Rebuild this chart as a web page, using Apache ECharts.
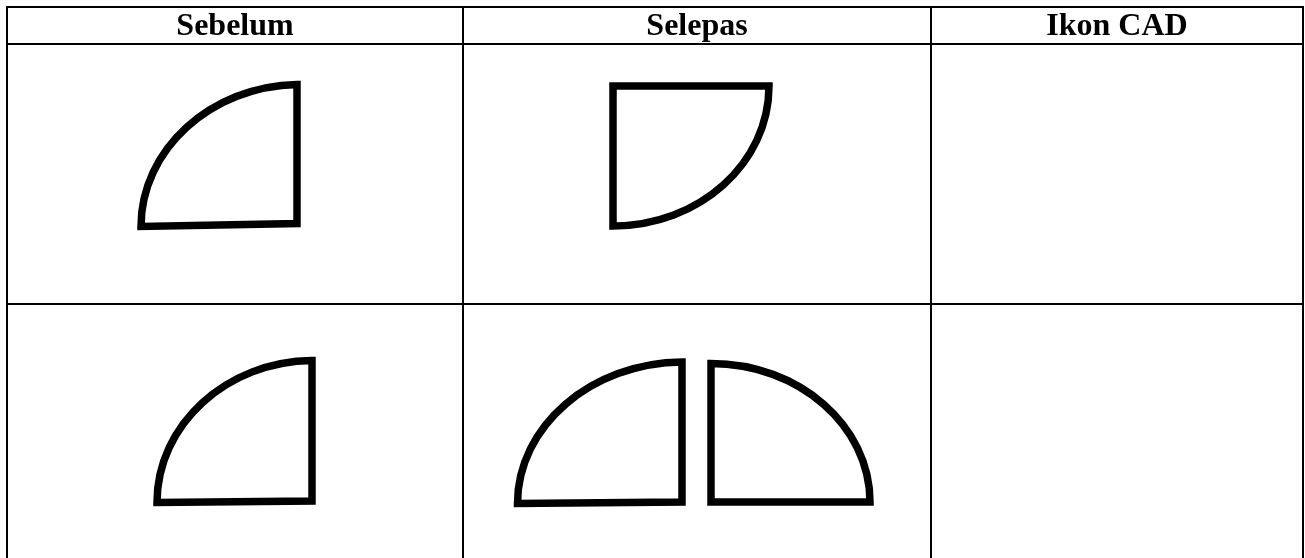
<!DOCTYPE html>
<html>
<head>
<meta charset="utf-8">
<script src="https://cdn.jsdelivr.net/npm/echarts@6/dist/echarts.min.js"></script>
<style>
  html, body { margin: 0; padding: 0; background: #fff; }
  #main { width: 1305px; height: 558px; }
</style>
</head>
<body>
<div id="main"></div>
<script>
// header labels
var headers = ["Sebelum", "Selepas", "Ikon CAD"];
// table edges (picture units)
var colEdges = [7, 463, 931, 1303];
var rowEdges = [7, 44, 304, 600];
// each shape: corner of the quarter, end of the straight edge, end of the other straight edge
var cornerPts = [[297, 223.5], [613, 86], [312, 501], [682, 502], [711, 502]];
var arcStart = [[141, 226.5], [769, 86], [157, 502.5], [517.5, 503.5], [870, 502]];
var arcEnd = [[297, 84.5], [613, 226], [312, 360.5], [682, 362], [711, 363.5]];

var K = 0.5523;

var gridLines = [];
colEdges.forEach(function (x) {
  gridLines.push([x, rowEdges[0] - 1, x, rowEdges[rowEdges.length - 1]]);
});
rowEdges.forEach(function (y) {
  gridLines.push([colEdges[0] - 1, y, colEdges[colEdges.length - 1] + 1, y]);
});

var headerData = headers.map(function (h, i) {
  return [(colEdges[i] + colEdges[i + 1]) / 2, (rowEdges[0] + rowEdges[1]) / 2 + 1.5, i];
});

var shapeData = cornerPts.map(function (c, i) {
  return [c[0], c[1], arcStart[i][0], arcStart[i][1], arcEnd[i][0], arcEnd[i][1]];
});

var myChart = echarts.init(document.getElementById("main"));
myChart.setOption({
  animation: false,
  grid: { left: 0, right: 0, top: 0, bottom: 0 },
  xAxis: { type: "value", min: 0, max: 1305, show: false },
  yAxis: { type: "value", min: 0, max: 558, inverse: true, show: false },
  series: [
    {
      type: "custom",
      data: gridLines,
      clip: false,
      renderItem: function (params, api) {
        var p1 = api.coord([api.value(0), api.value(1)]);
        var p2 = api.coord([api.value(2), api.value(3)]);
        return {
          type: "line",
          shape: { x1: p1[0], y1: p1[1], x2: p2[0], y2: p2[1] },
          style: { stroke: "#000", lineWidth: 2 }
        };
      }
    },
    {
      type: "custom",
      data: headerData,
      renderItem: function (params, api) {
        var p = api.coord([api.value(0), api.value(1)]);
        return {
          type: "text",
          style: {
            text: headers[api.value(2)],
            x: p[0],
            y: p[1],
            align: "center",
            verticalAlign: "middle",
            fill: "#000",
            font: "bold 32px 'Liberation Serif', 'Times New Roman', serif"
          }
        };
      }
    },
    {
      type: "custom",
      data: shapeData,
      renderItem: function (params, api) {
        var c = api.coord([api.value(0), api.value(1)]);
        var a = api.coord([api.value(2), api.value(3)]);
        var b = api.coord([api.value(4), api.value(5)]);
        var c1 = [a[0] + K * (b[0] - c[0]), a[1] + K * (b[1] - c[1])];
        var c2 = [b[0] + K * (a[0] - c[0]), b[1] + K * (a[1] - c[1])];
        var d = "M" + b[0] + " " + b[1] +
          " L" + c[0] + " " + c[1] +
          " L" + a[0] + " " + a[1] +
          " C" + c1[0] + " " + c1[1] + " " + c2[0] + " " + c2[1] + " " + b[0] + " " + b[1] + " Z";
        return {
          type: "path",
          shape: { pathData: d },
          style: { fill: null, stroke: "#000", lineWidth: 7.5, lineJoin: "miter" }
        };
      }
    }
  ]
});
</script>
</body>
</html>
